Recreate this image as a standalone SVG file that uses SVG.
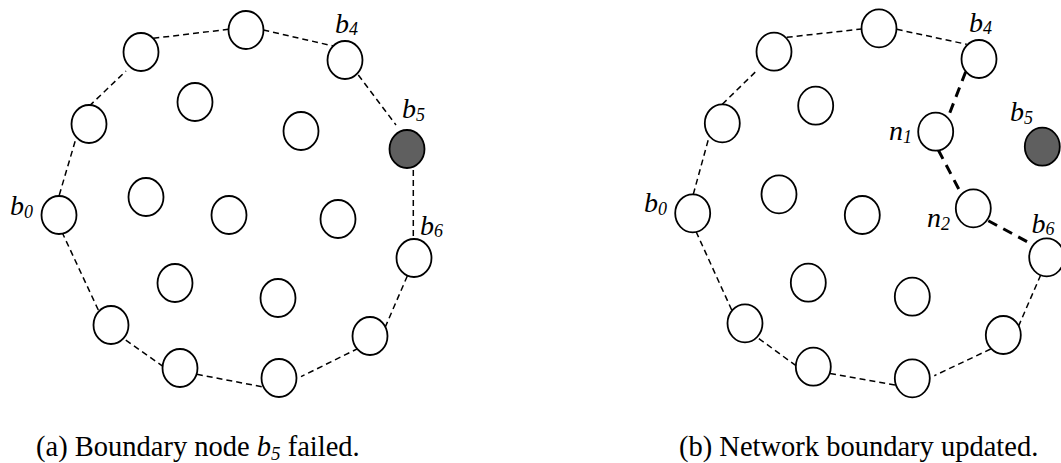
<svg xmlns="http://www.w3.org/2000/svg" width="1061" height="463" viewBox="0 0 1061 463">
<style>
.n{fill:#fff;stroke:#000;stroke-width:1.8}
.f{fill:#5f5f5f;stroke:#000;stroke-width:1.8}
.e{stroke:#000;stroke-width:1.5;stroke-dasharray:6 4;fill:none}
.t{stroke:#000;stroke-width:3;stroke-dasharray:10 7;fill:none}
.l{font-family:"Liberation Serif",serif;font-style:italic;font-size:28px;fill:#000}
.s{font-size:18px}
.c{font-family:"Liberation Serif",serif;font-size:28.5px;fill:#000}
</style>
<rect width="1061" height="463" fill="#fff"/>
<g id="connectors">
<line class="e" x1="59.3" y1="195" x2="76" y2="138.3"/>
<line class="e" x1="89.3" y1="106" x2="126" y2="71"/>
<line class="e" x1="153.3" y1="38.3" x2="228.3" y2="29.3"/>
<line class="e" x1="263.3" y1="30" x2="333.3" y2="46"/>
<line class="e" x1="358.3" y1="75" x2="396" y2="125"/>
<line class="e" x1="413.3" y1="170" x2="413.3" y2="242.7"/>
<line class="e" x1="407.3" y1="276" x2="385" y2="327.7"/>
<line class="e" x1="358.3" y1="348.3" x2="301" y2="376.7"/>
<line class="e" x1="261.7" y1="386.7" x2="191.7" y2="373.3"/>
<line class="e" x1="163.3" y1="366.7" x2="123.3" y2="338.3"/>
<line class="e" x1="98.3" y1="310" x2="61" y2="230"/>
<line class="e" x1="693.3" y1="194.3" x2="709.3" y2="136"/>
<line class="e" x1="722.3" y1="104.3" x2="756.7" y2="70.7"/>
<line class="e" x1="786.7" y1="37.3" x2="861.7" y2="29"/>
<line class="e" x1="896.7" y1="29.3" x2="966.7" y2="44.3"/>
<line class="t" x1="965.7" y1="71.7" x2="948.3" y2="116.7"/>
<line class="t" x1="938.3" y1="150" x2="961" y2="193.3"/>
<line class="t" x1="988.3" y1="220.7" x2="1033.3" y2="245"/>
<line class="e" x1="1040.7" y1="275" x2="1018.3" y2="326.7"/>
<line class="e" x1="990.7" y1="349" x2="934.3" y2="375.7"/>
<line class="e" x1="895" y1="385" x2="826" y2="372.7"/>
<line class="e" x1="796" y1="365.7" x2="757.7" y2="337.7"/>
<line class="e" x1="731.7" y1="310" x2="695" y2="229.3"/>
</g>
<g id="panel-a">
<g id="a-b0"><ellipse class="n" cx="59" cy="215" rx="17.5" ry="19"/><text class="l" x="10" y="215">b<tspan class="s" dy="3">0</tspan></text></g>
<g id="a-n1"><ellipse class="n" cx="89" cy="124" rx="17.5" ry="19"/></g>
<g id="a-n2"><ellipse class="n" cx="141" cy="52" rx="17.5" ry="19"/></g>
<g id="a-n3"><ellipse class="n" cx="246" cy="30" rx="17.5" ry="19"/></g>
<g id="a-b4"><ellipse class="n" cx="345" cy="60" rx="17.5" ry="19"/><text class="l" x="335" y="33">b<tspan class="s" dy="2">4</tspan></text></g>
<g id="a-b5"><ellipse class="f" cx="407" cy="149" rx="17.5" ry="19"/><text class="l" x="402" y="118">b<tspan class="s" dy="3">5</tspan></text></g>
<g id="a-b6"><ellipse class="n" cx="414" cy="258" rx="17.5" ry="19"/><text class="l" x="420" y="235">b<tspan class="s" dy="2">6</tspan></text></g>
<g id="a-n7"><ellipse class="n" cx="370" cy="336" rx="17.5" ry="19"/></g>
<g id="a-n8"><ellipse class="n" cx="279" cy="378" rx="17.5" ry="19"/></g>
<g id="a-n9"><ellipse class="n" cx="180" cy="368" rx="17.5" ry="19"/></g>
<g id="a-n10"><ellipse class="n" cx="111" cy="325" rx="17.5" ry="19"/></g>
<g id="a-i1"><ellipse class="n" cx="195" cy="102" rx="17.5" ry="19"/></g>
<g id="a-i2"><ellipse class="n" cx="301" cy="131" rx="17.5" ry="19"/></g>
<g id="a-i3"><ellipse class="n" cx="146" cy="197" rx="17.5" ry="19"/></g>
<g id="a-i4"><ellipse class="n" cx="229" cy="215" rx="17.5" ry="19"/></g>
<g id="a-i5"><ellipse class="n" cx="338" cy="219" rx="17.5" ry="19"/></g>
<g id="a-i6"><ellipse class="n" cx="175" cy="283" rx="17.5" ry="19"/></g>
<g id="a-i7"><ellipse class="n" cx="278" cy="298" rx="17.5" ry="19"/></g>
<text class="c" x="36" y="456">(a) Boundary node <tspan font-style="italic">b</tspan><tspan font-style="italic" font-size="19" dy="4">5</tspan><tspan dy="-4"> failed.</tspan></text>
</g>
<g id="panel-b">
<g id="b-b0"><ellipse class="n" cx="692.7" cy="213.3" rx="17.5" ry="19"/><text class="l" x="644" y="212">b<tspan class="s" dy="3">0</tspan></text></g>
<g id="b-n1"><ellipse class="n" cx="722.3" cy="123.3" rx="17.5" ry="19"/></g>
<g id="b-n2"><ellipse class="n" cx="774" cy="51.7" rx="17.5" ry="19"/></g>
<g id="b-n3"><ellipse class="n" cx="879" cy="28.3" rx="17.5" ry="19"/></g>
<g id="b-b4"><ellipse class="n" cx="979" cy="59" rx="17.5" ry="19"/><text class="l" x="969" y="31.7">b<tspan class="s" dy="2">4</tspan></text></g>
<g id="b-b5"><ellipse class="f" cx="1042.3" cy="146.7" rx="17.5" ry="19"/><text class="l" x="1010" y="121">b<tspan class="s" dy="3">5</tspan></text></g>
<g id="b-nn1"><ellipse class="n" cx="935.7" cy="131.7" rx="17.5" ry="19"/><text class="l" x="889" y="140">n<tspan class="s" dy="3">1</tspan></text></g>
<g id="b-nn2"><ellipse class="n" cx="973.3" cy="208.3" rx="17.5" ry="19"/><text class="l" x="927" y="226.7">n<tspan class="s" dy="3">2</tspan></text></g>
<g id="b-b6"><ellipse class="n" cx="1046.7" cy="257.3" rx="17.5" ry="19"/><text class="l" x="1031.5" y="233.3">b<tspan class="s" dy="2">6</tspan></text></g>
<g id="b-n7"><ellipse class="n" cx="1003.3" cy="335" rx="17.5" ry="19"/></g>
<g id="b-n8"><ellipse class="n" cx="912.3" cy="378.3" rx="17.5" ry="19"/></g>
<g id="b-n9"><ellipse class="n" cx="813.3" cy="366.7" rx="17.5" ry="19"/></g>
<g id="b-n10"><ellipse class="n" cx="745" cy="323.3" rx="17.5" ry="19"/></g>
<g id="b-i1"><ellipse class="n" cx="815.7" cy="105.7" rx="17.5" ry="19"/></g>
<g id="b-i3"><ellipse class="n" cx="779" cy="194.3" rx="17.5" ry="19"/></g>
<g id="b-i4"><ellipse class="n" cx="862.3" cy="215" rx="17.5" ry="19"/></g>
<g id="b-i6"><ellipse class="n" cx="808.3" cy="282.7" rx="17.5" ry="19"/></g>
<g id="b-i7"><ellipse class="n" cx="912.3" cy="296.7" rx="17.5" ry="19"/></g>
<text class="c" x="679" y="456">(b) Network boundary updated.</text>
</g>
</svg>
